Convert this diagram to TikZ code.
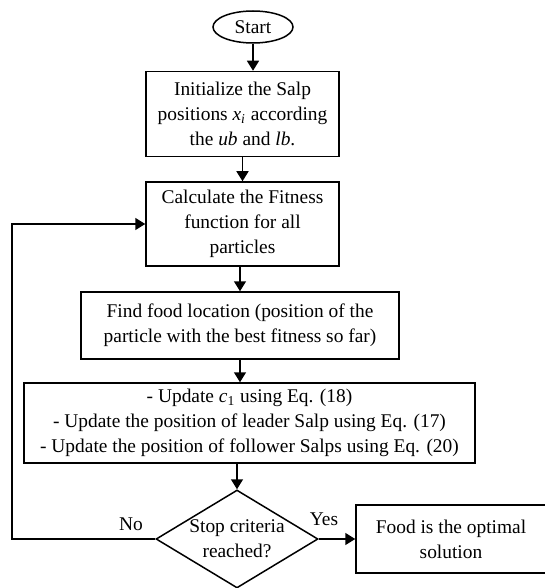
\documentclass[tikz,border=0pt]{standalone}
\usepackage{fontspec}
\setmainfont{Liberation Serif}
\usepackage{tikz}
\usetikzlibrary{arrows.meta, shapes.geometric}

\begin{document}
\begin{tikzpicture}[
    x=0.5pt, y=-0.5pt,
    procbox/.style={rectangle, draw=black, line width=0.75pt, inner sep=0pt, align=center, font=\fontsize{9.7}{12.5}\selectfont},
    termnode/.style={ellipse, draw=black, line width=0.75pt, inner sep=0pt, minimum width=40pt, minimum height=16pt, font=\fontsize{9.7}{12.5}\selectfont},
    decide/.style={diamond, draw=black, line width=0.75pt, inner sep=0pt, aspect=1.65, minimum width=81pt, minimum height=49pt, align=center, font=\fontsize{9.7}{12.5}\selectfont},
    arr/.style={-{Triangle[length=5pt, width=6pt]}, line width=0.75pt, black},
    lbl/.style={font=\fontsize{9.7}{12.5}\selectfont, inner sep=0pt},
]
\useasboundingbox (0,0) rectangle (545,588);

% ========== MAIN COLUMN ==========
\node[termnode] at (253,27) (start) {Start};
\node[procbox, minimum width=96.5pt, minimum height=42.5pt] at (242.5,114) (init) {Initialize the Salp\\positions \textit{x}\textsubscript{\textit{i}} according\\the \textit{ub} and \textit{lb}.};
\node[procbox, minimum width=96.5pt, minimum height=42pt] at (242.5,224) (fit) {Calculate the Fitness\\function for all\\particles};
\node[procbox, minimum width=159pt, minimum height=33.5pt] at (240,325.5) (food) {Find food location (position of the\\particle with the best fitness so far)};
\node[procbox, minimum width=225.5pt, minimum height=40pt] at (249.5,423) (upd) {- Update \textit{c}\textsubscript{1} using Eq. (18)\\- Update the position of leader Salp using Eq. (17)\\- Update the position of follower Salps using Eq. (20)};
\node[decide] at (237,539) (stop) {Stop criteria\\reached?};

% ========== RESULT ==========
\node[procbox, minimum width=95pt, minimum height=34pt] at (451,539) (opt) {Food is the optimal\\solution};

% ========== CONNECTIONS ==========
\draw[arr] (start.south) -- (start.south |- init.north);
\draw[arr] (init.south) -- (fit.north);
\draw[arr] (fit.south -| food.north) -- (food.north);
\draw[arr] (food.south) -- (food.south |- upd.north);
\draw[arr] (upd.south -| stop.north) -- (stop.north);

% --- Yes: stop -> result ---
\draw[arr] (stop.east) -- (opt.west);
\node[lbl] at (324,519) (yes) {Yes};

% --- No: loop back to fitness ---
\coordinate (loopc) at (12,539);
\draw[arr] (stop.west) -- (loopc) |- (fit.west);
\node[lbl] at (131,524) (no) {No};

\end{tikzpicture}
\end{document}
